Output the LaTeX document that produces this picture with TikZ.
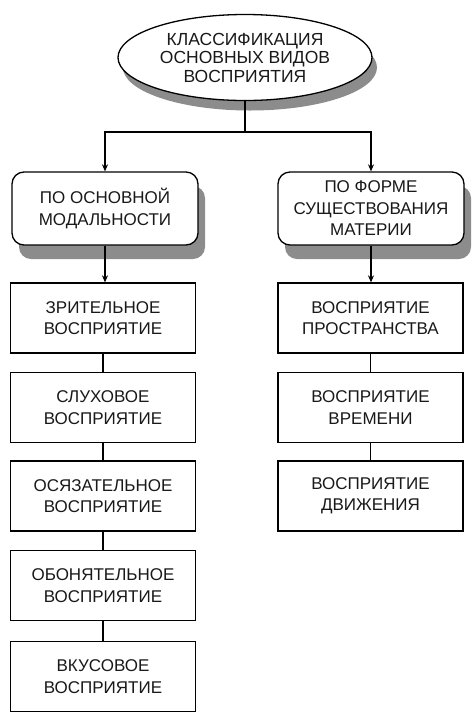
\documentclass[tikz,border=0pt]{standalone}
\usepackage{fontspec}
\setmainfont{Liberation Sans}
\usetikzlibrary{shapes.geometric,shadows,arrows.meta}
\begin{document}
\begin{tikzpicture}[x=1pt,y=-1pt,
  txt/.style={align=center, text=black!90, font=\fontsize{17}{21.5}\selectfont, inner sep=0pt},
  box/.style={txt, draw, line width=1.3pt, minimum width=185pt, minimum height=70pt, fill=white},
  rbox/.style={box, rounded corners=12pt, minimum height=73pt, minimum width=186pt,
    drop shadow={shadow xshift=7pt, shadow yshift=-14pt, fill=gray!90, opacity=1}},
  ell/.style={txt, ellipse, draw, line width=1.3pt, fill=white, minimum width=254pt, minimum height=86pt,
    font=\fontsize{17.5}{18.5}\selectfont,
    drop shadow={shadow xshift=5pt, shadow yshift=-10pt, fill=gray!90, opacity=1}},
  link/.style={line width=1.3pt},
  arr/.style={link, -{Stealth[length=7pt,width=6pt]}}
]
\useasboundingbox (0,0) rectangle (474,721);
\node[ell] (top) at (245,57.5) {КЛАССИФИКАЦИЯ\\ОСНОВНЫХ ВИДОВ\\ВОСПРИЯТИЯ};
\node[rbox] (L) at (105,208.5) {ПО ОСНОВНОЙ\\МОДАЛЬНОСТИ};
\node[rbox] (R) at (371,208.5) {ПО ФОРМЕ\\СУЩЕСТВОВАНИЯ\\МАТЕРИИ};

\node[box] (L1) at (103,318) {ЗРИТЕЛЬНОЕ\\ВОСПРИЯТИЕ};
\node[box] (L2) at (103,407.5) {СЛУХОВОЕ\\ВОСПРИЯТИЕ};
\node[box] (L3) at (103,496) {ОСЯЗАТЕЛЬНОЕ\\ВОСПРИЯТИЕ};
\node[box] (L4) at (103,585.5) {ОБОНЯТЕЛЬНОЕ\\ВОСПРИЯТИЕ};
\node[box] (L5) at (103,676.5) {ВКУСОВОЕ\\ВОСПРИЯТИЕ};

\node[box] (R1) at (370.5,318) {ВОСПРИЯТИЕ\\ПРОСТРАНСТВА};
\node[box] (R2) at (370.5,407.5) {ВОСПРИЯТИЕ\\ВРЕМЕНИ};
\node[box] (R3) at (370.5,496) {ВОСПРИЯТИЕ\\ДВИЖЕНИЯ};

\coordinate (j) at (top.south |- 0,132);
\draw[link] (top.south) -- (j);
\draw[arr] (j) -| (L.north);
\draw[arr] (j) -| (R.north);
\draw[arr] (L.south) -- (L1.north -| L.south);
\draw[arr] (R.south) -- (R1.north -| R.south);
\draw[link] (L1) -- (L2);
\draw[link] (L2) -- (L3);
\draw[link] (L3) -- (L4);
\draw[link] (L4) -- (L5);
\draw[link] (R1) -- (R2);
\draw[link] (R2) -- (R3);
\end{tikzpicture}
\end{document}
